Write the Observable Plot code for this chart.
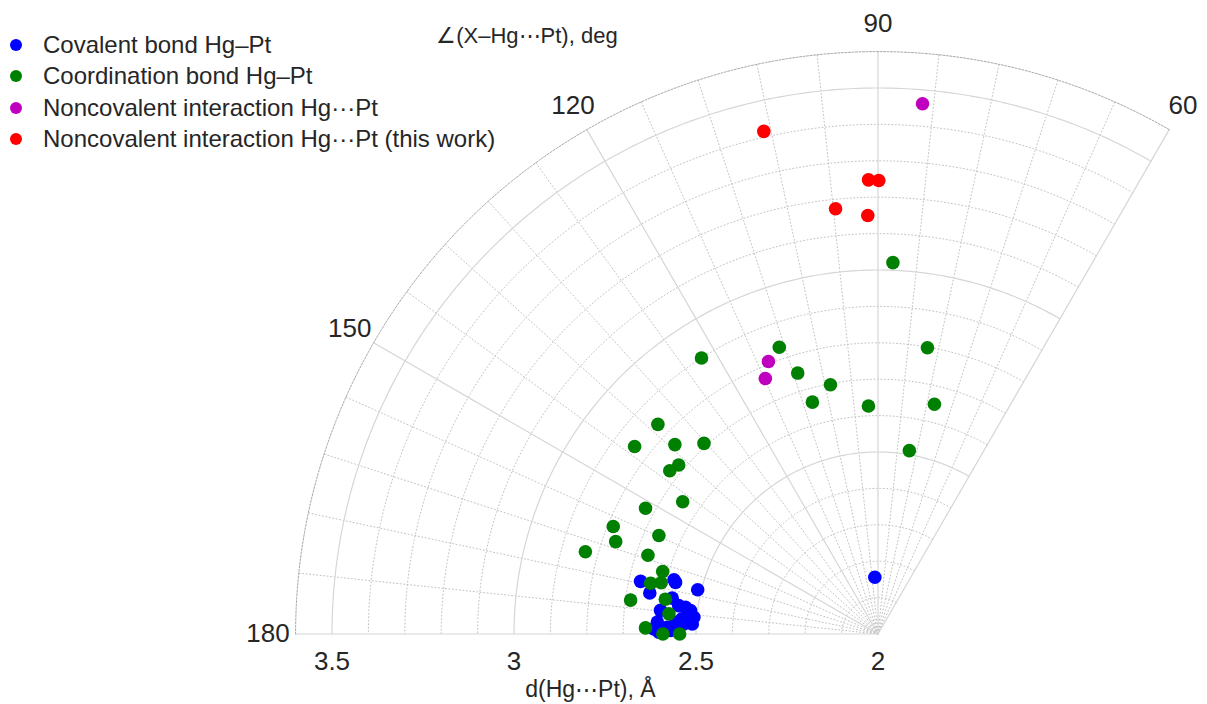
<!DOCTYPE html>
<html>
<head>
<meta charset="utf-8">
<script src="https://cdn.jsdelivr.net/npm/d3@7"></script>
<script src="https://cdn.jsdelivr.net/npm/@observablehq/plot@0.6"></script>
<style>
  body { margin: 0; background: #fff; font-family: "Liberation Sans", Arial, sans-serif; }
  #wrap { position: relative; width: 1207px; height: 704px; }
  #wrap svg { display: block; }
</style>
</head>
<body>
<div id="wrap"></div>
<script>
// ---- Data ----
const categories = [
  "Covalent bond Hg–Pt",
  "Coordination bond Hg–Pt",
  "Noncovalent interaction Hg···Pt",
  "Noncovalent interaction Hg···Pt (this work)"
];
const colors = ["#0000ff", "#008000", "#bf00bf", "#ff0000"];

// d(Hg···Pt), Å  and  ∠(X–Hg···Pt), deg
const covalentDist  = [2.156, 2.668, 2.580, 2.574, 2.637, 2.510, 2.574, 2.553, 2.534, 2.519, 2.508, 2.511, 2.540, 2.557, 2.601, 2.607, 2.616, 2.579, 2.557, 2.602, 2.534, 2.523, 2.570, 2.584, 2.548];
const covalentAngle = [93.2, 167.5, 165.1, 165.7, 169.8, 166.2, 170.1, 171.9, 172.1, 172.9, 174.8, 176.9, 175.6, 176.7, 173.8, 176.9, 178.7, 178.2, 178.1, 179.5, 177.0, 173.4, 179.0, 178.6, 177.6];

const coordinationDist  = [3.021, 2.798, 2.833, 2.900, 2.750, 2.697, 2.662, 2.627, 2.650, 2.511, 2.835, 2.844, 2.763, 2.709, 2.718, 2.727, 2.648, 2.726, 2.785, 2.764, 2.835, 2.660, 2.668, 2.616, 2.640, 2.612, 2.686, 2.592, 2.577, 2.639, 2.591, 2.545];
const coordinationAngle = [87.7, 80.2, 109.0, 122.6, 107.1, 100.8, 105.8, 92.4, 76.2, 80.3, 136.4, 142.4, 137.0, 132.4, 139.7, 141.9, 145.9, 151.6, 157.9, 160.6, 164.3, 155.8, 161.1, 163.8, 167.4, 166.7, 172.2, 170.7, 174.5, 178.5, 180.0, 180.0];

const noncovalentDist  = [3.462, 2.807, 2.767];
const noncovalentAngle = [85.2, 111.9, 113.8];

const thisWorkDist  = [3.416, 3.248, 3.246, 3.174, 3.150];
const thisWorkAngle = [102.8, 91.2, 89.9, 95.7, 91.4];

// axis ticks
const rTicks = [2, 2.5, 3, 3.5];
const rTickLabels = ["2", "2.5", "3", "3.5"];
const thetaTicks = [60, 90, 120, 150, 180];
const thetaTickLabels = ["60", "90", "120", "150", "180"];
const rTitle = "d(Hg⋯Pt), Å";
const thetaTitle = "∠(X–Hg⋯Pt), deg";

// ---- polar geometry ----
const R0 = 2, RMAX = 3.6, T0 = 60, T1 = 180;
const rad = (t) => t * Math.PI / 180;
const U = (r, t) => (r - R0) * Math.cos(rad(t));
const V = (r, t) => (r - R0) * Math.sin(rad(t));

const series = [
  [covalentDist, covalentAngle],
  [coordinationDist, coordinationAngle],
  [noncovalentDist, noncovalentAngle],
  [thisWorkDist, thisWorkAngle]
];
const points = [];
series.forEach(([ds, as], i) => ds.forEach((d, j) =>
  points.push({series: categories[i], d, a: as[j], u: U(d, as[j]), v: V(d, as[j])})));

// grid
const rMinor = d3.range(21, 36).map(k => k / 10).filter(r => !rTicks.includes(r));
const rMajor = rTicks.filter(r => r > R0);
const tMinor = d3.range(T0, T1 + 1, 6).filter(t => !thetaTicks.includes(t));
const arc = (rs) => rs.flatMap(r => d3.range(T0, T1 + 0.25, 0.5).map(t => ({r, u: U(r, t), v: V(r, t)})));
const spokes = (ts) => ts.flatMap(t => [R0, RMAX].map(r => ({t, u: U(r, t), v: V(r, t)})));

const cx = 877.5, cy = 633.5, k = 364; // pixel placement of the pole, px per Å
const W = 1207, H = 704;

const chart = Plot.plot({
  width: W, height: H, margin: 0,
  x: {domain: [-cx / k, (W - cx) / k], axis: null},
  y: {domain: [(cy - H) / k, cy / k], axis: null},
  color: {domain: categories, range: colors},
  style: {fontFamily: "'Liberation Sans', Arial, sans-serif", background: "white", color: "#262626"},
  marks: [
    Plot.line(arc(rMinor), {x: "u", y: "v", z: "r", stroke: "#c2c2c2", strokeWidth: 1, strokeDasharray: "1,2.5"}),
    Plot.line(spokes(tMinor), {x: "u", y: "v", z: "t", stroke: "#c2c2c2", strokeWidth: 1, strokeDasharray: "1,2.5"}),
    Plot.line(arc(rMajor), {x: "u", y: "v", z: "r", stroke: "#d6d6d6", strokeWidth: 1.2}),
    Plot.line(spokes(thetaTicks), {x: "u", y: "v", z: "t", stroke: "#d6d6d6", strokeWidth: 1.2}),
    Plot.line(arc([RMAX]), {x: "u", y: "v", z: "r", stroke: "#a8a8a8", strokeWidth: 1, strokeDasharray: "2,1.5"}),
    Plot.dot(points, {x: "u", y: "v", fill: "series", r: 6.8}),
    Plot.text(rTicks.map((r, i) => ({label: rTickLabels[i], u: U(r, 180), v: V(r, 180)})),
      {x: "u", y: "v", text: "label", dy: 28, fontSize: 26, fill: "#262626"}),
    Plot.text(thetaTicks.map((t, i) => ({label: thetaTickLabels[i], u: U(3.676, t), v: V(3.676, t)})),
      {x: "u", y: "v", text: "label", fontSize: 26, fill: "#262626"}),
    Plot.text([{label: rTitle, u: U(2.79, 180), v: V(2.79, 180)}],
      {x: "u", y: "v", text: "label", dy: 56, fontSize: 23, fill: "#262626"}),
    Plot.text([{label: thetaTitle, u: U(3.906, 120.4), v: V(3.906, 120.4)}],
      {x: "u", y: "v", text: "label", fontSize: 22, fill: "#262626"})
  ]
});

const wrap = d3.select("#wrap");
wrap.node().appendChild(chart);

// legend (HTML, overlaid top-left)
const legend = wrap.append("div")
  .style("position", "absolute").style("left", "0px").style("top", "29px");
categories.forEach((c, i) => {
  const row = legend.append("div")
    .style("display", "flex").style("align-items", "center").style("height", "31.5px");
  row.append("span")
    .style("display", "inline-block").style("width", "12px").style("height", "12px")
    .style("border-radius", "50%").style("background", colors[i]).style("margin-left", "10px");
  row.append("span").text(c)
    .style("margin-left", "21px").style("font-size", "24px").style("color", "#262626")
    .style("white-space", "nowrap");
});
</script>
</body>
</html>
